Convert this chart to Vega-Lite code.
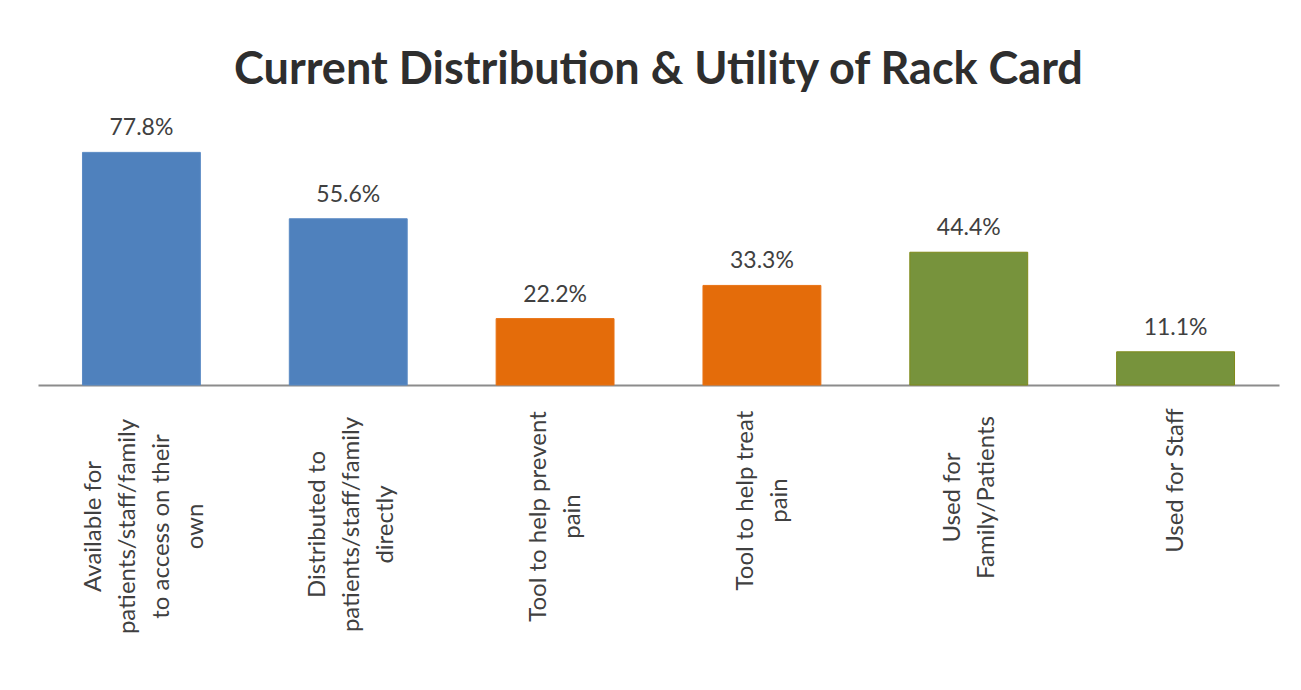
{
  "$schema": "https://vega.github.io/schema/vega-lite/v6.json",
  "autosize": "none",
  "width": 1241,
  "height": 299,
  "padding": {"left": 38, "top": 86, "right": 22, "bottom": 305},
  "background": "white",
  "config": {"view": {"stroke": null}},
  "title": {
    "text": "Current Distribution & Utility of Rack Card",
    "font": "Lato",
    "fontSize": 45,
    "fontWeight": "bold",
    "color": "#2e2e2e",
    "anchor": "middle",
    "baseline": "alphabetic",
    "offset": 0,
    "dy": 43
  },
  "data": {
    "values": [
      {"label": "Available for|patients/staff/family|to access on their|own", "group": "Distribution", "value": 0.778},
      {"label": "Distributed to|patients/staff/family|directly", "group": "Distribution", "value": 0.556},
      {"label": "Tool to help prevent|pain", "group": "Utility", "value": 0.222},
      {"label": "Tool to help treat|pain", "group": "Utility", "value": 0.333},
      {"label": "Used for|Family/Patients", "group": "Use", "value": 0.444},
      {"label": "Used for Staff", "group": "Use", "value": 0.111}
    ]
  },
  "encoding": {
    "x": {
      "field": "label",
      "type": "nominal",
      "sort": null,
      "scale": {"paddingInner": 0.43, "paddingOuter": 0.215},
      "axis": {
        "title": null,
        "ticks": false,
        "domainColor": "#8c8c8c",
        "domainWidth": 2,
        "labelAngle": -90,
        "labelAlign": "center",
        "labelBaseline": "middle",
        "labelFont": "Lato",
        "labelFontSize": 24,
        "labelColor": "#404040",
        "labelLineHeight": 34,
        "labelLimit": 0,
        "labelExpr": "split(datum.label, '|')",
        "labelPadding": {
          "condition": [
            {"test": "indexof(datum.value, 'Available') === 0", "value": 141},
            {"test": "indexof(datum.value, 'Distributed') === 0", "value": 139},
            {"test": "indexof(datum.value, 'Tool to help prevent') === 0", "value": 131},
            {"test": "indexof(datum.value, 'Tool to help treat') === 0", "value": 115},
            {"test": "indexof(datum.value, 'Used for|') === 0", "value": 112}
          ],
          "value": 95
        },
        "labelOffset": {
          "condition": [
            {"test": "indexof(datum.value, 'Available') === 0", "value": -47},
            {"test": "indexof(datum.value, 'Distributed') === 0", "value": -30},
            {"test": "indexof(datum.value, '|') > 0", "value": -16}
          ],
          "value": 0
        }
      }
    },
    "y": {
      "field": "value",
      "type": "quantitative",
      "scale": {"domain": [0, 1]},
      "axis": null
    }
  },
  "layer": [
    {
      "mark": {"type": "bar", "strokeWidth": 1},
      "encoding": {
        "color": {
          "field": "group",
          "type": "nominal",
          "scale": {"domain": ["Distribution", "Utility", "Use"], "range": ["#4f81bd", "#e46c0a", "#77933c"]},
          "legend": null
        },
        "stroke": {
          "field": "group",
          "type": "nominal",
          "scale": {"domain": ["Distribution", "Utility", "Use"], "range": ["#5b8ac4", "#e97315", "#7f8a1a"]},
          "legend": null
        }
      }
    },
    {
      "mark": {"type": "text", "font": "Lato", "fontSize": 23, "color": "#404040", "baseline": "alphabetic", "dy": -17},
      "encoding": {
        "text": {"field": "value", "type": "quantitative", "format": ".1%"}
      }
    }
  ]
}
